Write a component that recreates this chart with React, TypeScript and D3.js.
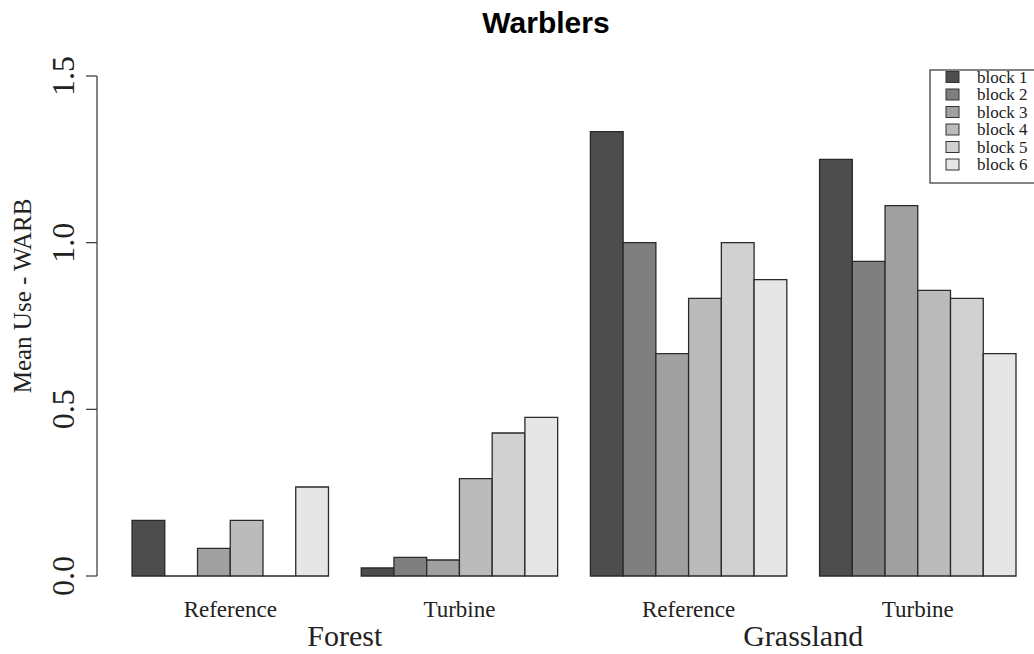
import { useMemo } from 'react';
import * as d3 from 'd3';

const WIDTH = 1034;
const HEIGHT = 654;

// data
const habitats = ['Forest', 'Grassland'];
const sites = ['Reference', 'Turbine'];
const blocks = ['block 1', 'block 2', 'block 3', 'block 4', 'block 5', 'block 6'];
const forestReference = [0.167, 0, 0.083, 0.167, 0, 0.267];
const forestTurbine = [0.024, 0.056, 0.048, 0.292, 0.429, 0.476];
const grasslandReference = [1.333, 1.0, 0.667, 0.833, 1.0, 0.889];
const grasslandTurbine = [1.25, 0.944, 1.111, 0.857, 0.833, 0.667];
const yTicks = [0, 0.5, 1.0, 1.5];

const groups = [forestReference, forestTurbine, grasslandReference, grasslandTurbine];
const fills = ['#4D4D4D', '#7F7F7F', '#A0A0A0', '#BBBBBB', '#D1D1D1', '#E6E6E6'];

const SERIF = '"Liberation Serif", "Times New Roman", serif';

const App = () => {
  // R style barplot: each group = 1 space + 6 bars, units on x
  const xScale = useMemo(
    () => d3.scaleLinear().domain([0, 28]).range([99.3, 1016]),
    []
  );
  const yScale = useMemo(
    () => d3.scaleLinear().domain([0, 1.5]).range([576, 76]),
    []
  );
  const unit = xScale(1) - xScale(0);

  // rect outline as a path, so zero-height bars still draw a line on the base
  const bars = groups.flatMap((vals, g) =>
    vals.map((v, i) => {
      const u = g * 7 + 1 + i;
      const p = d3.path();
      p.rect(xScale(u), yScale(v), unit, yScale(0) - yScale(v));
      return (
        <path
          key={`${g}-${i}`}
          d={p.toString()}
          fill={fills[i]}
          stroke="#2a2a2a"
          strokeWidth={1.3}
        />
      );
    })
  );

  const siteLabels = groups.map((_, g) => {
    const cx = xScale(g * 7 + 4);
    return (
      <text key={g} x={cx} y={617} textAnchor="middle" fontSize={23} fontFamily={SERIF} fill="#222">
        {sites[g % 2]}
      </text>
    );
  });

  const habitatLabels = habitats.map((h, k) => {
    const cx = (xScale(k * 14 + 1) + xScale(k * 14 + 14)) / 2;
    return (
      <text key={h} x={cx} y={646} textAnchor="middle" fontSize={30} fontFamily={SERIF} fill="#222">
        {h}
      </text>
    );
  });

  return (
    <svg width={WIDTH} height={HEIGHT} style={{ position: 'absolute', left: 0, top: 0, background: '#fff' }}>
      <text x={546} y={33} textAnchor="middle" fontSize={30} fontWeight="bold" fontFamily='"Liberation Sans", Arial, sans-serif'>
        Warblers
      </text>

      {/* y axis */}
      <line x1={97} x2={97} y1={yScale(0)} y2={yScale(1.5)} stroke="#333" strokeWidth={1.2} />
      {yTicks.map((t) => (
        <g key={t} transform={`translate(97,${yScale(t)})`}>
          <line x1={-11} x2={0} stroke="#333" strokeWidth={1.2} />
          <text
            transform="translate(-23,0) rotate(-90)"
            textAnchor="middle"
            fontSize={32}
            fontFamily={SERIF}
            fill="#222"
          >
            {t.toFixed(1)}
          </text>
        </g>
      ))}
      <text
        transform="translate(31,296) rotate(-90)"
        textAnchor="middle"
        fontSize={25}
        fontFamily={SERIF}
        fill="#222"
      >
        Mean Use - WARB
      </text>

      {bars}
      {siteLabels}
      {habitatLabels}

      {/* legend */}
      <rect x={930} y={70} width={110} height={113} fill="#fff" stroke="#333" strokeWidth={1.2} />
      {blocks.map((b, i) => (
        <g key={b} transform={`translate(946,${77 + i * 17.5})`}>
          <rect x={0} y={-5.5} width={13} height={11} fill={fills[i]} stroke="#333" strokeWidth={1} />
          <text x={31} y={5.5} fontSize={17} fontFamily={SERIF} fill="#222">
            {b}
          </text>
        </g>
      ))}
    </svg>
  );
};

export default App;
